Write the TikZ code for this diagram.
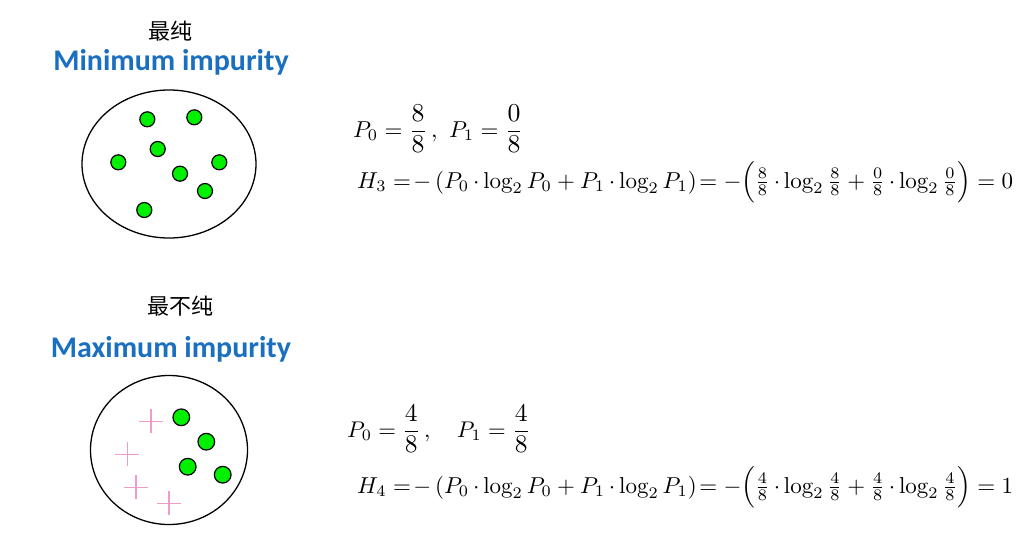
\documentclass[tikz,border=0pt]{standalone}
\usepackage{amsmath}
\usepackage{graphicx}
\usepackage{fontspec}
\usetikzlibrary{shapes.geometric}
\newfontfamily\cjk{Noto Sans CJK SC}
\newfontfamily\titlefont{Carlito}
\definecolor{titleblue}{HTML}{1B6FC0}
\definecolor{dotgreen}{HTML}{00F000}
\definecolor{crosspink}{HTML}{F09CC8}
\newcommand{\bfr}[2]{\dfrac{\scalebox{1.12}{$#1$}}{\scalebox{1.12}{$#2$}}}
\tikzset{
  setoval/.style={draw=black, line width=1.3pt, ellipse, inner sep=0pt},
  gdot/.style={circle, draw=black, line width=1.2pt, fill=dotgreen, inner sep=0pt, minimum size=#1},
  pinkplus/.style={draw=crosspink, line width=1.1pt},
  cjklabel/.style={inner sep=0pt, font=\cjk\fontsize{22}{24}\selectfont},
  titlelabel/.style={inner sep=0pt, text=titleblue, font=\titlefont\bfseries\fontsize{30}{32}\selectfont},
  eq/.style={anchor=base west, inner sep=0pt}
}
\begin{document}
\begin{tikzpicture}[x=1pt,y=-1pt]
\useasboundingbox (0,0) rectangle (1035,533);
% ---- top: minimum impurity ----
\node[cjklabel] (cn1) at (170,31) {最纯};
\node[titlelabel, anchor=base] (en1) at (171,70) {Minimum impurity};
\node[setoval, minimum width=174pt, minimum height=148pt] (set1) at (169,164) {};
\node[gdot=15pt] (a1) at (147.3,119.3) {};
\node[gdot=15pt] (a2) at (194.3,117.3) {};
\node[gdot=15pt] (a3) at (157.7,149) {};
\node[gdot=15pt] (a4) at (118.3,162.3) {};
\node[gdot=15pt] (a5) at (219.3,162.3) {};
\node[gdot=15pt] (a6) at (180,173.7) {};
\node[gdot=15pt] (a7) at (205,191) {};
\node[gdot=15pt] (a8) at (144.3,210) {};
\node[eq] (p3) at (353,137) {\resizebox{170pt}{!}{$P_0=\bfr{8}{8}\,,\ P_1=\bfr{0}{8}$}};
\node[eq] (h3) at (357,188) {\resizebox{656pt}{!}{$H_3 \mathrel{=}\!{-}\,(P_0\,{\cdot}\log_2 P_0+P_1\,{\cdot}\log_2 P_1)\!\mathrel{=}-\Bigl(\frac{8}{8}\,{\cdot}\log_2\frac{8}{8}+\frac{0}{8}\,{\cdot}\log_2\frac{0}{8}\Bigr)=0$}};
% ---- bottom: maximum impurity ----
\node[cjklabel] (cn2) at (180,306) {最不纯};
\node[titlelabel, anchor=base] (en2) at (171,357) {Maximum impurity};
\node[setoval, minimum width=157pt, minimum height=149pt] (set2) at (169,450) {};
\node[gdot=16.7pt] (b1) at (181.3,417.3) {};
\node[gdot=16.7pt] (b2) at (206.3,441.7) {};
\node[gdot=16.7pt] (b3) at (187.7,466.7) {};
\node[gdot=16.7pt] (b4) at (222.7,474.7) {};
\coordinate (c1) at (151,421.3);
\coordinate (c2) at (127.3,454.3);
\coordinate (c3) at (136,487.3);
\coordinate (c4) at (169,503.3);
\foreach \c in {c1,c2,c3,c4}{
  \draw[pinkplus] (\c) +(-12,0) -- +(12,0) (\c) +(0,-12) -- +(0,12);
}
\node[eq] (p4) at (347,437) {\resizebox{183pt}{!}{$P_0=\bfr{4}{8}\,,\quad P_1=\bfr{4}{8}$}};
\node[eq] (h4) at (357,493) {\resizebox{656pt}{!}{$H_4 \mathrel{=}\!{-}\,(P_0\,{\cdot}\log_2 P_0+P_1\,{\cdot}\log_2 P_1)\!\mathrel{=}-\Bigl(\frac{4}{8}\,{\cdot}\log_2\frac{4}{8}+\frac{4}{8}\,{\cdot}\log_2\frac{4}{8}\Bigr)=1$}};
\end{tikzpicture}
\end{document}
